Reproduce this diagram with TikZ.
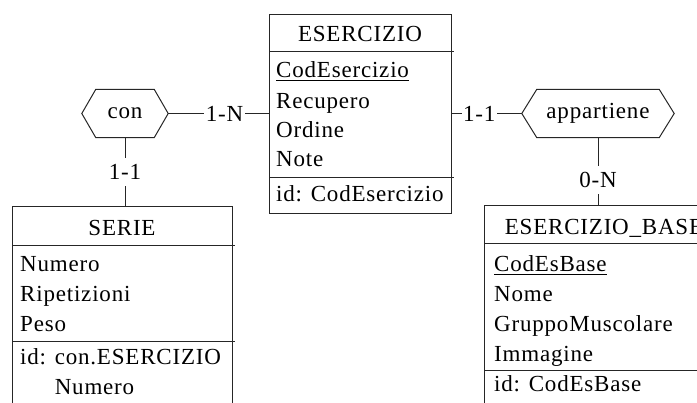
\documentclass[tikz,border=0pt]{standalone}
\usepackage{fontspec}
\setmainfont{Liberation Serif}[LetterSpace=3.5]
\begin{document}
\begin{tikzpicture}[x=1pt,y=-1pt,
  every node/.style={font=\fontsize{23}{27}\selectfont, inner sep=0pt},
  ln/.style={line width=1pt, draw=black!85},
  entbox/.style={draw=black!85, line width=1pt, anchor=north west, inner sep=0pt},
  attr/.style={anchor=base west},
  ttl/.style={anchor=base},
  relbox/.style={minimum height=48},
  card/.style={fill=white, inner xsep=1.5pt, inner ysep=6.5pt}]
\useasboundingbox (0,0) rectangle (697,403);
\clip (0,0) rectangle (697,403);

% ---------- entity ESERCIZIO ----------
\node[entbox, minimum width=182, minimum height=199] (esr) at (269,14) {};
\node[ttl] (esrT) at (360,42) {ESERCIZIO};
\draw[ln] ([yshift=-38pt]esr.north west) -- ++(185,0);
\node[attr] (esr1) at (276,78) {CodEsercizio};
\draw[line width=1.3pt] ([yshift=-2.5pt]esr1.base west) -- ([yshift=-2.5pt]esr1.base east);
\node[attr] (esr2) at (276,109) {Recupero};
\node[attr] (esr3) at (276,138) {Ordine};
\node[attr] (esr4) at (276,167) {Note};
\draw[ln] ([yshift=-164pt]esr.north west) -- ++(185,0);
\node[attr] (esr5) at (276,202) {id: CodEsercizio};

% ---------- entity SERIE ----------
\node[entbox, minimum width=220, minimum height=215] (ser) at (12,206) {};
\node[ttl] (serT) at (122,236) {SERIE};
\draw[ln] ([yshift=-40pt]ser.north west) -- ++(223,0);
\node[attr] (ser1) at (20,272) {Numero};
\node[attr] (ser2) at (20,302) {Ripetizioni};
\node[attr] (ser3) at (20,332) {Peso};
\draw[ln] ([yshift=-136pt]ser.north west) -- ++(223,0);
\node[attr] (ser4) at (20,365) {id: con.ESERCIZIO};
\node[attr] (ser5) at (20,395) {\phantom{id: }Numero};

% ---------- entity ESERCIZIO_BASE ----------
\node[entbox, minimum width=240, minimum height=215] (eb) at (484,205) {};
\node[ttl] (ebT) at (604,235) {ESERCIZIO\_BASE};
\draw[ln] ([yshift=-39pt]eb.north west) -- ++(243,0);
\node[attr] (eb1) at (494,272) {CodEsBase};
\draw[line width=1.3pt] ([yshift=-2.5pt]eb1.base west) -- ([yshift=-2.5pt]eb1.base east);
\node[attr] (eb2) at (494,302) {Nome};
\node[attr] (eb3) at (494,332) {GruppoMuscolare};
\node[attr] (eb4) at (494,362) {Immagine};
\draw[ln] ([yshift=-166pt]eb.north west) -- ++(243,0);
\node[attr] (eb5) at (494,392) {id: CodEsBase};

% ---------- relationship con ----------
\node[relbox, minimum width=86] (con) at (125,113.5) {con};
\draw[ln] (con.west) -- ([xshift=14pt]con.north west) -- ([xshift=-14pt]con.north east)
  -- (con.east) -- ([xshift=-14pt]con.south east) -- ([xshift=14pt]con.south west) -- cycle;

% ---------- relationship appartiene ----------
\node[relbox, minimum width=152] (app) at (598,113.5) {appartiene};
\draw[ln] (app.west) -- ([xshift=15pt]app.north west) -- ([xshift=-15pt]app.north east)
  -- (app.east) -- ([xshift=-15pt]app.south east) -- ([xshift=15pt]app.south west) -- cycle;

% ---------- connectors with cardinalities ----------
\draw[ln] (con.east) -- (con.east -| esr.west) node[card, pos=0.56] (c1) {1-N};
\draw[ln] (con.south) -- (con.south |- ser.north) node[card, pos=0.5] (c2) {1-1};
\draw[ln] (app.west) -- (app.west -| esr.east) node[card, pos=0.61] (c3) {1-1};
\draw[ln] (app.south) -- (app.south |- eb.north) node[card, pos=0.63] (c4) {0-N};
\end{tikzpicture}
\end{document}
